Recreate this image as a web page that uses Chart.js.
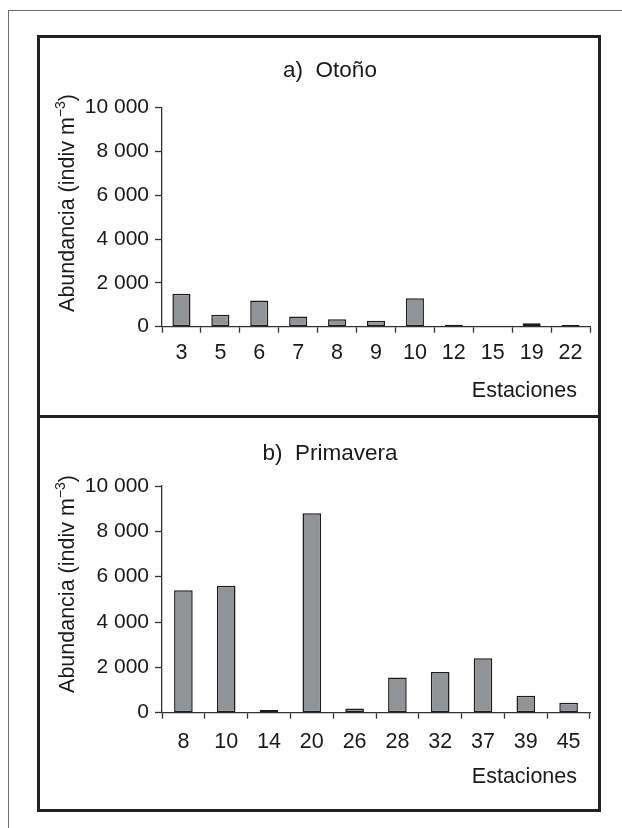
<!DOCTYPE html>
<html>
<head>
<meta charset="utf-8">
<title>Abundancia por estación</title>
<script src="https://cdn.jsdelivr.net/npm/chart.js@4.4.1/dist/chart.umd.min.js"></script>
<style>
  html, body { margin: 0; padding: 0; background: #fff; }
  body { width: 622px; height: 828px; position: relative; overflow: hidden; }
  .frame { position: absolute; left: 8px; top: 10px; width: 700px; height: 900px;
           border-left: 1px solid #6e6e6e; border-top: 1px solid #6e6e6e; z-index: 2; }
  .box { position: absolute; left: 37px; top: 35px; width: 558px; height: 771px;
         border: 3px solid #222; z-index: 2; }
  .divider { position: absolute; left: 37px; top: 415px; width: 564px; height: 3px;
             background: #222; z-index: 2; }
  canvas { position: absolute; left: 0; z-index: 1; }
  #otono { top: 0; }
  #primavera { top: 416px; }
</style>
</head>
<body>
<div class="frame"></div>
<div class="box"></div>
<div class="divider"></div>
<canvas id="otono" width="622" height="416"></canvas>
<canvas id="primavera" width="622" height="412"></canvas>
<script>
// Stations sampled in each season and their abundance (indiv m-3)
const otonoStations = ['3', '5', '6', '7', '8', '9', '10', '12', '15', '19', '22'];
const otonoAbundance = [1500, 540, 1190, 470, 340, 270, 1300, 90, 0, 160, 80];

const primaveraStations = ['8', '10', '14', '20', '26', '28', '32', '37', '39', '45'];
const primaveraAbundance = [5400, 5600, 120, 8800, 190, 1550, 1800, 2400, 750, 440];

const abundanceTicks = [0, 2000, 4000, 6000, 8000, 10000];

const FONT = '"Liberation Sans", Arial, Helvetica, sans-serif';
const INK = '#1a1a1a';

// 10000 -> "10 000"
function spaced(v) {
  return String(v).replace(/\B(?=(\d{3})+(?!\d))/g, ' ');
}

// Panel title, rotated y-axis name with superscript, and x-axis name
const panelText = {
  id: 'panelText',
  afterDraw(chart, args, o) {
    const ctx = chart.ctx;
    ctx.save();
    ctx.fillStyle = INK;
    ctx.textBaseline = 'alphabetic';

    ctx.font = o.titleSize + 'px ' + FONT;
    ctx.textAlign = 'center';
    ctx.fillText(o.title, o.titleX, o.titleY);

    ctx.font = o.labelSize + 'px ' + FONT;
    ctx.textAlign = 'right';
    ctx.fillText(o.xName, o.xNameRight, o.xNameY);

    // y-axis name: "Abundancia (indiv m" + superscript "−3" + ")"
    const main = o.yName, sup = o.yNameSup, tail = ')';
    const supSize = Math.round(o.labelSize * 0.66);
    ctx.font = o.labelSize + 'px ' + FONT;
    const wMain = ctx.measureText(main).width;
    const wTail = ctx.measureText(tail).width;
    ctx.font = supSize + 'px ' + FONT;
    const wSup = ctx.measureText(sup).width;
    const total = wMain + wSup + wTail;

    ctx.translate(o.yNameX, o.yNameCenter);
    ctx.rotate(-Math.PI / 2);
    ctx.textAlign = 'left';
    let x = -total / 2;
    ctx.font = o.labelSize + 'px ' + FONT;
    ctx.fillText(main, x, 0);
    x += wMain;
    ctx.font = supSize + 'px ' + FONT;
    ctx.fillText(sup, x, -o.labelSize * 0.42);
    x += wSup;
    ctx.font = o.labelSize + 'px ' + FONT;
    ctx.fillText(tail, x, 0);
    ctx.restore();
  }
};

function makePanel(canvasId, stations, values, geom) {
  return new Chart(document.getElementById(canvasId), {
    type: 'bar',
    data: {
      labels: stations,
      datasets: [{
        data: values,
        backgroundColor: '#929397',
        borderColor: '#1c1c1c',
        borderWidth: 1.5,
        borderSkipped: false,
        categoryPercentage: 1,
        barPercentage: geom.barPct
      }]
    },
    options: {
      responsive: false,
      animation: false,
      events: [],
      layout: { padding: { left: 0, right: geom.padRight, top: geom.padTop, bottom: 0 } },
      plugins: {
        legend: { display: false },
        tooltip: { enabled: false },
        title: { display: false },
        panelText: geom.text
      },
      scales: {
        x: {
          offset: true,
          grid: {
            offset: true,
            drawOnChartArea: false,
            drawTicks: true,
            tickLength: 6,
            tickWidth: 1.3,
            tickColor: '#333'
          },
          border: { display: true, color: '#333', width: 1.3 },
          ticks: {
            color: INK,
            font: { family: FONT, size: 21.5 },
            padding: geom.xPad,
            maxRotation: 0,
            autoSkip: false
          },
          afterFit(scale) { scale.height = geom.xHeight; }
        },
        y: {
          min: 0,
          max: 10000,
          afterBuildTicks(scale) { scale.ticks = abundanceTicks.map(v => ({ value: v })); },
          grid: {
            drawOnChartArea: false,
            drawTicks: true,
            tickLength: 7,
            tickWidth: 1.3,
            tickColor: '#333'
          },
          border: { display: true, color: '#333', width: 1.3 },
          ticks: {
            color: INK,
            font: { family: FONT, size: 21 },
            padding: 6,
            callback: v => spaced(v)
          },
          afterFit(scale) { scale.width = 162; }
        }
      }
    },
    plugins: [panelText]
  });
}

makePanel('otono', otonoStations, otonoAbundance, {
  barPct: 0.465,
  padTop: 107.5,
  padRight: 32,
  xHeight: 89.3,
  xPad: 7,
  text: {
    title: 'a)  Otoño', titleX: 330, titleY: 77, titleSize: 22.5,
    xName: 'Estaciones', xNameRight: 577, xNameY: 397,
    yName: 'Abundancia (indiv m', yNameSup: '−3', yNameX: 74, yNameCenter: 203,
    labelSize: 21.5
  }
});

makePanel('primavera', primaveraStations, primaveraAbundance, {
  barPct: 0.435,
  padTop: 70,
  padRight: 32,
  xHeight: 115.3,
  xPad: 10,
  text: {
    title: 'b)  Primavera', titleX: 330, titleY: 44, titleSize: 22.5,
    xName: 'Estaciones', xNameRight: 577, xNameY: 367,
    yName: 'Abundancia (indiv m', yNameSup: '−3', yNameX: 74, yNameCenter: 168,
    labelSize: 21.5
  }
});
</script>
</body>
</html>
